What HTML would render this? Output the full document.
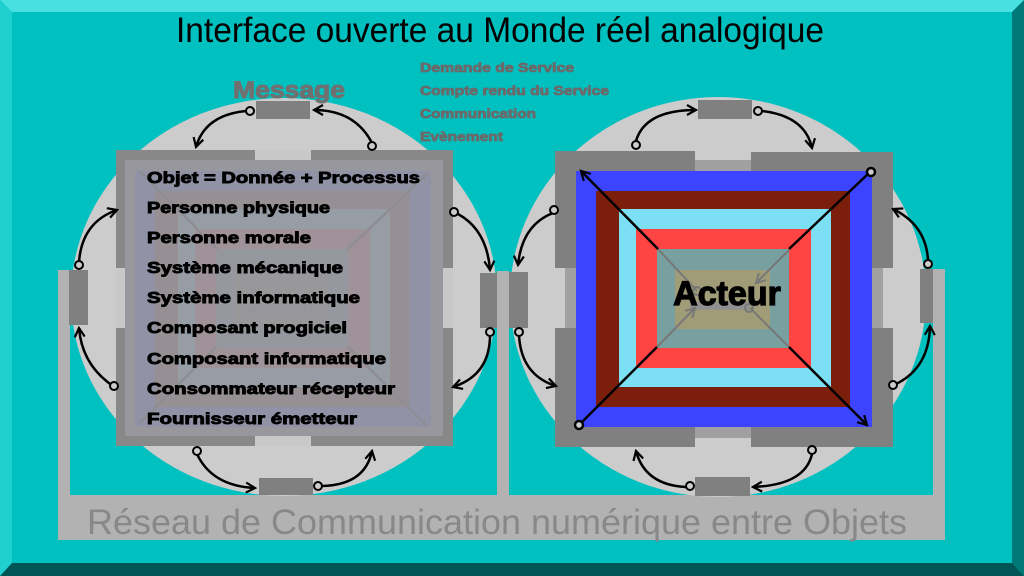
<!DOCTYPE html>
<html><head><meta charset="utf-8"><style>
html,body{margin:0;padding:0;width:1024px;height:576px;overflow:hidden;background:#00c0c0}
svg{display:block}
text{font-family:"Liberation Sans",Arial,sans-serif}
</style></head><body>
<svg width="1024" height="576" viewBox="0 0 1024 576" xmlns="http://www.w3.org/2000/svg">
<defs>
<marker id="ah" viewBox="0 0 12 12" refX="10" refY="6" markerWidth="12" markerHeight="12" markerUnits="userSpaceOnUse" orient="auto">
<path d="M1,1 L10,6 L1,11" fill="none" stroke="#000" stroke-width="2.2"/>
</marker>
<marker id="ahg" viewBox="0 0 12 12" refX="10" refY="6" markerWidth="12" markerHeight="12" markerUnits="userSpaceOnUse" orient="auto">
<path d="M1,1 L10,6 L1,11" fill="none" stroke="#777" stroke-width="2"/>
</marker>
<g id="pat">
<rect x="576" y="171" width="296" height="256" fill="#3c44ff"/>
<rect x="596" y="191" width="254" height="216" fill="#7c1e0c"/>
<rect x="619" y="209" width="212" height="178" fill="#7cdff4"/>
<rect x="636" y="229" width="175" height="139" fill="#ff4444"/>
<rect x="657" y="249" width="132" height="99" fill="#78a0a0"/>
<rect x="675" y="270" width="95" height="59" fill="#a09c78"/>
<rect x="690" y="302" width="60" height="8" fill="#909090"/>
<line x1="658" y1="249" x2="697" y2="291" stroke="#777" stroke-width="2"/>
<circle cx="697" cy="291" r="4" fill="none" stroke="#777" stroke-width="2"/>
<line x1="789" y1="250" x2="756" y2="283" stroke="#777" stroke-width="2" marker-end="url(#ahg)"/>
<line x1="657" y1="347" x2="695" y2="308" stroke="#777" stroke-width="2" marker-end="url(#ahg)"/>
<line x1="789" y1="347" x2="750" y2="308" stroke="#777" stroke-width="2"/>
<circle cx="749" cy="308" r="4" fill="none" stroke="#777" stroke-width="2"/>
</g>
</defs>

<polygon points="0,0 1024,0 1012,12 12,12" fill="#48e0e0"/>
<polygon points="0,0 12,12 12,563 0,576" fill="#20d0d0"/>
<polygon points="1024,0 1024,576 1012,563 1012,12" fill="#007878"/>
<polygon points="0,576 12,563 1012,563 1024,576" fill="#005555"/>

<text x="500" y="42" font-size="35" text-anchor="middle" textLength="648" lengthAdjust="spacingAndGlyphs" fill="#000">Interface ouverte au Monde réel analogique</text>

<rect x="58" y="495" width="887" height="45" fill="#b2b2b2"/>
<text x="497" y="534" font-size="35" text-anchor="middle" textLength="820" lengthAdjust="spacingAndGlyphs" fill="#888">Réseau de Communication numérique entre Objets</text>

<ellipse cx="284" cy="297" rx="213" ry="199" fill="#cccccc"/>
<ellipse cx="718" cy="297" rx="208" ry="200" fill="#cccccc"/>
<rect x="58" y="270" width="12" height="225" fill="#b2b2b2"/>
<rect x="497" y="271" width="12" height="225" fill="#b2b2b2"/>
<rect x="933" y="269" width="12" height="226" fill="#b2b2b2"/>

<text x="233" y="98" font-size="24" font-weight="bold" textLength="112" lengthAdjust="spacingAndGlyphs" fill="#707070" stroke="#707070" stroke-width="1">Message</text>
<g font-size="13" font-weight="bold" fill="#6a6a6a" stroke="#6a6a6a" stroke-width="0.8">
<text x="420" y="72" textLength="154" lengthAdjust="spacingAndGlyphs">Demande de Service</text>
<text x="420" y="95" textLength="189" lengthAdjust="spacingAndGlyphs">Compte rendu du Service</text>
<text x="420" y="118" textLength="116" lengthAdjust="spacingAndGlyphs">Communication</text>
<text x="420" y="141" textLength="83" lengthAdjust="spacingAndGlyphs">Evènement</text>
</g>

<rect x="695" y="160" width="56" height="11" fill="#a0a0a0"/>
<rect x="695" y="427" width="56" height="11" fill="#a0a0a0"/>
<rect x="565" y="268" width="11" height="60" fill="#a0a0a0"/>
<rect x="872" y="268" width="11" height="60" fill="#a0a0a0"/>
<g fill="#808080">
<rect x="555" y="151" width="140" height="20"/>
<rect x="751" y="152" width="142" height="20"/>
<rect x="555" y="151" width="21" height="117"/>
<rect x="555" y="328" width="21" height="119"/>
<rect x="872" y="152" width="21" height="116"/>
<rect x="872" y="328" width="21" height="119"/>
<rect x="555" y="427" width="140" height="20"/>
<rect x="751" y="427" width="142" height="20"/>
</g>
<use href="#pat"/>
<text x="727" y="305" font-size="34" font-weight="bold" text-anchor="middle" fill="#000" stroke="#000" stroke-width="1.2">Acteur</text>
<g stroke="#000" stroke-width="2.5" fill="none">
<line x1="658" y1="249" x2="581" y2="171" marker-end="url(#ah)"/>
<line x1="789" y1="249" x2="869" y2="173"/>
<circle cx="871" cy="172" r="4" fill="#ccc"/>
<line x1="657" y1="347" x2="581" y2="423"/>
<circle cx="579" cy="425" r="4" fill="#ccc"/>
<line x1="789" y1="347" x2="867" y2="425" marker-end="url(#ah)"/>
</g>

<rect x="116" y="150" width="337" height="296" fill="#888"/>
<rect x="255" y="150" width="56" height="10" fill="#c8c8c8"/>
<rect x="255" y="436" width="56" height="10" fill="#c8c8c8"/>
<rect x="116" y="268" width="9" height="60" fill="#c8c8c8"/>
<rect x="443" y="268" width="10" height="60" fill="#c8c8c8"/>
<g transform="translate(-441,0)"><use href="#pat"/>
<g stroke="#000" stroke-width="2.5" fill="none">
<line x1="658" y1="249" x2="581" y2="171"/><line x1="789" y1="249" x2="869" y2="173"/>
<line x1="657" y1="347" x2="581" y2="423"/><line x1="789" y1="347" x2="867" y2="425"/></g></g>
<rect x="125" y="160" width="318" height="276" fill="rgba(152,152,158,0.93)"/>
<g font-size="16" font-weight="bold" fill="#000" stroke="#000" stroke-width="0.9">
<text x="147" y="183" textLength="273" lengthAdjust="spacingAndGlyphs">Objet = Donnée + Processus</text>
<text x="147" y="213" textLength="183" lengthAdjust="spacingAndGlyphs">Personne physique</text>
<text x="147" y="243" textLength="164" lengthAdjust="spacingAndGlyphs">Personne morale</text>
<text x="147" y="273" textLength="196" lengthAdjust="spacingAndGlyphs">Système mécanique</text>
<text x="147" y="303" textLength="213" lengthAdjust="spacingAndGlyphs">Système informatique</text>
<text x="147" y="333" textLength="200" lengthAdjust="spacingAndGlyphs">Composant progiciel</text>
<text x="147" y="364" textLength="239" lengthAdjust="spacingAndGlyphs">Composant informatique</text>
<text x="147" y="394" textLength="248" lengthAdjust="spacingAndGlyphs">Consommateur récepteur</text>
<text x="147" y="424" textLength="210" lengthAdjust="spacingAndGlyphs">Fournisseur émetteur</text>
</g>

<g fill="#808080">
<rect x="256" y="101" width="54" height="18"/>
<rect x="259" y="478" width="54" height="17"/>
<rect x="69" y="270" width="19" height="55"/>
<rect x="480" y="273" width="17" height="55"/>
<rect x="698" y="100" width="54" height="19"/>
<rect x="695" y="477" width="55" height="19"/>
<rect x="509" y="272" width="19" height="56"/>
<rect x="920" y="269" width="13" height="54"/>
</g>

<g stroke="#000" stroke-width="2.5" fill="none">
<path d="M246,111 Q205,115 196,147" marker-end="url(#ah)"/>
<path d="M372,143 Q355,110 314,110" marker-end="url(#ah)"/>
<path d="M79,262 Q82,222 117,210" marker-end="url(#ah)"/>
<path d="M458,214 Q487,230 490,270" marker-end="url(#ah)"/>
<path d="M113,386 Q82,365 79,328" marker-end="url(#ah)"/>
<path d="M490,335 Q490,375 453,387" marker-end="url(#ah)"/>
<path d="M197,454 Q212,486 255,488" marker-end="url(#ah)"/>
<path d="M322,486 Q365,485 372,451" marker-end="url(#ah)"/>
<path d="M636,141 Q645,110 696,110" marker-end="url(#ah)"/>
<path d="M762,111 Q805,116 812,148" marker-end="url(#ah)"/>
<path d="M553,213 Q522,225 518,265" marker-end="url(#ah)"/>
<path d="M928,260 Q926,225 893,209" marker-end="url(#ah)"/>
<path d="M519,335 Q521,375 556,386" marker-end="url(#ah)"/>
<path d="M896,384 Q929,368 930,326" marker-end="url(#ah)"/>
<path d="M686,487 Q645,485 636,451" marker-end="url(#ah)"/>
<path d="M812,454 Q805,485 753,487" marker-end="url(#ah)"/>
</g>
<g stroke="#000" stroke-width="2" fill="#ccc">
<circle cx="250" cy="111" r="4"/><circle cx="372" cy="146" r="4"/>
<circle cx="79" cy="265" r="4"/><circle cx="454" cy="212" r="4"/>
<circle cx="114" cy="386" r="4"/><circle cx="490" cy="332" r="4"/>
<circle cx="197" cy="451" r="4"/><circle cx="318" cy="486" r="4"/>
<circle cx="636" cy="145" r="4"/><circle cx="758" cy="111" r="4"/>
<circle cx="554" cy="210" r="4"/><circle cx="928" cy="264" r="4"/>
<circle cx="519" cy="332" r="4"/><circle cx="893" cy="385" r="4"/>
<circle cx="690" cy="486" r="4"/><circle cx="812" cy="450" r="4"/>
</g>
</svg>
</body></html>
